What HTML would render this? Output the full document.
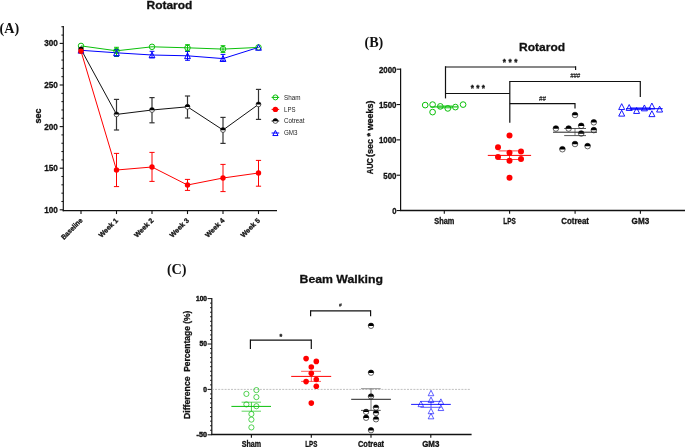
<!DOCTYPE html><html><head><meta charset="utf-8"><style>html,body{margin:0;padding:0;background:#fff;}svg{display:block;will-change:transform;}</style></head><body>
<svg width="685" height="447" viewBox="0 0 685 447">
<rect width="685" height="447" fill="#fff"/>
<text x="-0.5" y="32.8" font-family="Liberation Serif" font-size="15" font-weight="bold" text-anchor="start" fill="#111" textLength="19.6" lengthAdjust="spacingAndGlyphs" >(A)</text>
<text x="146.5" y="9.3" font-family="Liberation Sans" font-size="11.8" font-weight="bold" text-anchor="start" fill="#111" textLength="45.9" lengthAdjust="spacingAndGlyphs"  stroke="#111" stroke-width="0.3">Rotarod</text>
<line x1="63.3" y1="26.0" x2="63.3" y2="211.25" stroke="#111" stroke-width="1.2" />
<line x1="62.699999999999996" y1="210.65" x2="277" y2="210.65" stroke="#111" stroke-width="1.4" />
<line x1="59.699999999999996" y1="209.8" x2="63.3" y2="209.8" stroke="#111" stroke-width="1.1" />
<line x1="61.4" y1="201.48" x2="63.3" y2="201.48" stroke="#111" stroke-width="1.0" />
<line x1="61.4" y1="193.16" x2="63.3" y2="193.16" stroke="#111" stroke-width="1.0" />
<line x1="61.4" y1="184.84" x2="63.3" y2="184.84" stroke="#111" stroke-width="1.0" />
<line x1="61.4" y1="176.52" x2="63.3" y2="176.52" stroke="#111" stroke-width="1.0" />
<line x1="59.699999999999996" y1="168.2" x2="63.3" y2="168.2" stroke="#111" stroke-width="1.1" />
<line x1="61.4" y1="159.88" x2="63.3" y2="159.88" stroke="#111" stroke-width="1.0" />
<line x1="61.4" y1="151.56" x2="63.3" y2="151.56" stroke="#111" stroke-width="1.0" />
<line x1="61.4" y1="143.23999999999998" x2="63.3" y2="143.23999999999998" stroke="#111" stroke-width="1.0" />
<line x1="61.4" y1="134.92" x2="63.3" y2="134.92" stroke="#111" stroke-width="1.0" />
<line x1="59.699999999999996" y1="126.6" x2="63.3" y2="126.6" stroke="#111" stroke-width="1.1" />
<line x1="61.4" y1="118.28" x2="63.3" y2="118.28" stroke="#111" stroke-width="1.0" />
<line x1="61.4" y1="109.96000000000001" x2="63.3" y2="109.96000000000001" stroke="#111" stroke-width="1.0" />
<line x1="61.4" y1="101.63999999999999" x2="63.3" y2="101.63999999999999" stroke="#111" stroke-width="1.0" />
<line x1="61.4" y1="93.32" x2="63.3" y2="93.32" stroke="#111" stroke-width="1.0" />
<line x1="59.699999999999996" y1="85.0" x2="63.3" y2="85.0" stroke="#111" stroke-width="1.1" />
<line x1="61.4" y1="76.68" x2="63.3" y2="76.68" stroke="#111" stroke-width="1.0" />
<line x1="61.4" y1="68.36" x2="63.3" y2="68.36" stroke="#111" stroke-width="1.0" />
<line x1="61.4" y1="60.04" x2="63.3" y2="60.04" stroke="#111" stroke-width="1.0" />
<line x1="61.4" y1="51.72" x2="63.3" y2="51.72" stroke="#111" stroke-width="1.0" />
<line x1="59.699999999999996" y1="43.4" x2="63.3" y2="43.4" stroke="#111" stroke-width="1.1" />
<line x1="61.4" y1="35.08" x2="63.3" y2="35.08" stroke="#111" stroke-width="1.0" />
<line x1="61.4" y1="26.759999999999998" x2="63.3" y2="26.759999999999998" stroke="#111" stroke-width="1.0" />
<text x="57.9" y="46.4" font-family="Liberation Sans" font-size="9.2" font-weight="bold" text-anchor="end" fill="#111" textLength="13.7" lengthAdjust="spacingAndGlyphs"  stroke="#111" stroke-width="0.3">300</text>
<text x="57.9" y="88.0" font-family="Liberation Sans" font-size="9.2" font-weight="bold" text-anchor="end" fill="#111" textLength="13.7" lengthAdjust="spacingAndGlyphs"  stroke="#111" stroke-width="0.3">250</text>
<text x="57.9" y="129.6" font-family="Liberation Sans" font-size="9.2" font-weight="bold" text-anchor="end" fill="#111" textLength="13.7" lengthAdjust="spacingAndGlyphs"  stroke="#111" stroke-width="0.3">200</text>
<text x="57.9" y="171.2" font-family="Liberation Sans" font-size="9.2" font-weight="bold" text-anchor="end" fill="#111" textLength="13.7" lengthAdjust="spacingAndGlyphs"  stroke="#111" stroke-width="0.3">150</text>
<text x="57.9" y="212.8" font-family="Liberation Sans" font-size="9.2" font-weight="bold" text-anchor="end" fill="#111" textLength="13.7" lengthAdjust="spacingAndGlyphs"  stroke="#111" stroke-width="0.3">100</text>
<text x="41.3" y="115.9" font-family="Liberation Sans" font-size="9" font-weight="bold" text-anchor="middle" fill="#111" textLength="15" lengthAdjust="spacingAndGlyphs" transform="rotate(-90 41.3 115.9)"  stroke="#111" stroke-width="0.3">sec</text>
<line x1="81.0" y1="210.65" x2="81.0" y2="214.05" stroke="#111" stroke-width="1.1" />
<line x1="116.5" y1="210.65" x2="116.5" y2="214.05" stroke="#111" stroke-width="1.1" />
<line x1="152.0" y1="210.65" x2="152.0" y2="214.05" stroke="#111" stroke-width="1.1" />
<line x1="187.5" y1="210.65" x2="187.5" y2="214.05" stroke="#111" stroke-width="1.1" />
<line x1="223.0" y1="210.65" x2="223.0" y2="214.05" stroke="#111" stroke-width="1.1" />
<line x1="258.5" y1="210.65" x2="258.5" y2="214.05" stroke="#111" stroke-width="1.1" />
<text x="83.0" y="220.9" font-family="Liberation Sans" font-size="7" font-weight="bold" text-anchor="end" fill="#111" textLength="27.0" lengthAdjust="spacingAndGlyphs" transform="rotate(-45 83.0 220.9)"  stroke="#111" stroke-width="0.3">Baseline</text>
<text x="118.5" y="220.9" font-family="Liberation Sans" font-size="7" font-weight="bold" text-anchor="end" fill="#111" textLength="24.2" lengthAdjust="spacingAndGlyphs" transform="rotate(-45 118.5 220.9)"  stroke="#111" stroke-width="0.3">Week 1</text>
<text x="154.0" y="220.9" font-family="Liberation Sans" font-size="7" font-weight="bold" text-anchor="end" fill="#111" textLength="24.2" lengthAdjust="spacingAndGlyphs" transform="rotate(-45 154.0 220.9)"  stroke="#111" stroke-width="0.3">Week 2</text>
<text x="189.5" y="220.9" font-family="Liberation Sans" font-size="7" font-weight="bold" text-anchor="end" fill="#111" textLength="24.2" lengthAdjust="spacingAndGlyphs" transform="rotate(-45 189.5 220.9)"  stroke="#111" stroke-width="0.3">Week 3</text>
<text x="225.0" y="220.9" font-family="Liberation Sans" font-size="7" font-weight="bold" text-anchor="end" fill="#111" textLength="24.2" lengthAdjust="spacingAndGlyphs" transform="rotate(-45 225.0 220.9)"  stroke="#111" stroke-width="0.3">Week 4</text>
<text x="260.5" y="220.9" font-family="Liberation Sans" font-size="7" font-weight="bold" text-anchor="end" fill="#111" textLength="24.2" lengthAdjust="spacingAndGlyphs" transform="rotate(-45 260.5 220.9)"  stroke="#111" stroke-width="0.3">Week 5</text>
<polyline points="81.0,51.2 116.5,170.0 152.0,167.0 187.5,185.0 223.0,178.0 258.5,173.0" fill="none" stroke="#ff0000" stroke-width="1.0"/>
<polyline points="81.0,49.3 116.5,114.4 152.0,110.0 187.5,106.8 223.0,130.0 258.5,104.4" fill="none" stroke="#111" stroke-width="1.0"/>
<polyline points="81.0,50.3 116.5,52.8 152.0,55.0 187.5,55.8 223.0,58.6 258.5,47.4" fill="none" stroke="#0000ff" stroke-width="1.0"/>
<polyline points="81.0,45.9 116.5,50.8 152.0,46.8 187.5,47.8 223.0,49.1 258.5,47.4" fill="none" stroke="#0ac00a" stroke-width="1.0"/>
<line x1="116.5" y1="99.4" x2="116.5" y2="130.0" stroke="#333" stroke-width="1.2" />
<line x1="113.9" y1="99.4" x2="119.1" y2="99.4" stroke="#333" stroke-width="1.2" />
<line x1="113.9" y1="130.0" x2="119.1" y2="130.0" stroke="#333" stroke-width="1.2" />
<line x1="152.0" y1="97.6" x2="152.0" y2="122.8" stroke="#333" stroke-width="1.2" />
<line x1="149.4" y1="97.6" x2="154.6" y2="97.6" stroke="#333" stroke-width="1.2" />
<line x1="149.4" y1="122.8" x2="154.6" y2="122.8" stroke="#333" stroke-width="1.2" />
<line x1="187.5" y1="96.0" x2="187.5" y2="118.0" stroke="#333" stroke-width="1.2" />
<line x1="184.9" y1="96.0" x2="190.1" y2="96.0" stroke="#333" stroke-width="1.2" />
<line x1="184.9" y1="118.0" x2="190.1" y2="118.0" stroke="#333" stroke-width="1.2" />
<line x1="223.0" y1="117.4" x2="223.0" y2="143.4" stroke="#333" stroke-width="1.2" />
<line x1="220.4" y1="117.4" x2="225.6" y2="117.4" stroke="#333" stroke-width="1.2" />
<line x1="220.4" y1="143.4" x2="225.6" y2="143.4" stroke="#333" stroke-width="1.2" />
<line x1="258.5" y1="89.4" x2="258.5" y2="119.4" stroke="#333" stroke-width="1.2" />
<line x1="255.9" y1="89.4" x2="261.1" y2="89.4" stroke="#333" stroke-width="1.2" />
<line x1="255.9" y1="119.4" x2="261.1" y2="119.4" stroke="#333" stroke-width="1.2" />
<line x1="116.5" y1="153.4" x2="116.5" y2="186.6" stroke="#ff0000" stroke-width="1.0" />
<line x1="113.9" y1="153.4" x2="119.1" y2="153.4" stroke="#ff0000" stroke-width="1.0" />
<line x1="113.9" y1="186.6" x2="119.1" y2="186.6" stroke="#ff0000" stroke-width="1.0" />
<line x1="152.0" y1="152.4" x2="152.0" y2="181.4" stroke="#ff0000" stroke-width="1.0" />
<line x1="149.4" y1="152.4" x2="154.6" y2="152.4" stroke="#ff0000" stroke-width="1.0" />
<line x1="149.4" y1="181.4" x2="154.6" y2="181.4" stroke="#ff0000" stroke-width="1.0" />
<line x1="187.5" y1="179.4" x2="187.5" y2="190.4" stroke="#ff0000" stroke-width="1.0" />
<line x1="184.9" y1="179.4" x2="190.1" y2="179.4" stroke="#ff0000" stroke-width="1.0" />
<line x1="184.9" y1="190.4" x2="190.1" y2="190.4" stroke="#ff0000" stroke-width="1.0" />
<line x1="223.0" y1="164.4" x2="223.0" y2="191.6" stroke="#ff0000" stroke-width="1.0" />
<line x1="220.4" y1="164.4" x2="225.6" y2="164.4" stroke="#ff0000" stroke-width="1.0" />
<line x1="220.4" y1="191.6" x2="225.6" y2="191.6" stroke="#ff0000" stroke-width="1.0" />
<line x1="258.5" y1="160.4" x2="258.5" y2="186.2" stroke="#ff0000" stroke-width="1.0" />
<line x1="255.9" y1="160.4" x2="261.1" y2="160.4" stroke="#ff0000" stroke-width="1.0" />
<line x1="255.9" y1="186.2" x2="261.1" y2="186.2" stroke="#ff0000" stroke-width="1.0" />
<line x1="116.5" y1="49.5" x2="116.5" y2="56.5" stroke="#0000ff" stroke-width="1.0" />
<line x1="114.1" y1="49.5" x2="118.9" y2="49.5" stroke="#0000ff" stroke-width="1.0" />
<line x1="114.1" y1="56.5" x2="118.9" y2="56.5" stroke="#0000ff" stroke-width="1.0" />
<line x1="152.0" y1="51.3" x2="152.0" y2="57.7" stroke="#0000ff" stroke-width="1.0" />
<line x1="149.6" y1="51.3" x2="154.4" y2="51.3" stroke="#0000ff" stroke-width="1.0" />
<line x1="149.6" y1="57.7" x2="154.4" y2="57.7" stroke="#0000ff" stroke-width="1.0" />
<line x1="187.5" y1="51.5" x2="187.5" y2="60.3" stroke="#0000ff" stroke-width="1.0" />
<line x1="185.1" y1="51.5" x2="189.9" y2="51.5" stroke="#0000ff" stroke-width="1.0" />
<line x1="185.1" y1="60.3" x2="189.9" y2="60.3" stroke="#0000ff" stroke-width="1.0" />
<line x1="223.0" y1="54.4" x2="223.0" y2="61.0" stroke="#0000ff" stroke-width="1.0" />
<line x1="220.6" y1="54.4" x2="225.4" y2="54.4" stroke="#0000ff" stroke-width="1.0" />
<line x1="220.6" y1="61.0" x2="225.4" y2="61.0" stroke="#0000ff" stroke-width="1.0" />
<line x1="116.5" y1="47.3" x2="116.5" y2="56.0" stroke="#0ac00a" stroke-width="1.0" />
<line x1="114.1" y1="47.3" x2="118.9" y2="47.3" stroke="#0ac00a" stroke-width="1.0" />
<line x1="114.1" y1="56.0" x2="118.9" y2="56.0" stroke="#0ac00a" stroke-width="1.0" />
<line x1="187.5" y1="44.7" x2="187.5" y2="50.8" stroke="#0ac00a" stroke-width="1.0" />
<line x1="185.1" y1="44.7" x2="189.9" y2="44.7" stroke="#0ac00a" stroke-width="1.0" />
<line x1="185.1" y1="50.8" x2="189.9" y2="50.8" stroke="#0ac00a" stroke-width="1.0" />
<line x1="223.0" y1="45.7" x2="223.0" y2="52.4" stroke="#0ac00a" stroke-width="1.0" />
<line x1="220.6" y1="45.7" x2="225.4" y2="45.7" stroke="#0ac00a" stroke-width="1.0" />
<line x1="220.6" y1="52.4" x2="225.4" y2="52.4" stroke="#0ac00a" stroke-width="1.0" />
<circle cx="81.0" cy="45.9" r="2.75" fill="none" stroke="#0ac00a" stroke-width="1.0"/>
<circle cx="116.5" cy="50.8" r="2.75" fill="none" stroke="#0ac00a" stroke-width="1.0"/>
<circle cx="152.0" cy="46.8" r="2.75" fill="none" stroke="#0ac00a" stroke-width="1.0"/>
<circle cx="187.5" cy="47.8" r="2.75" fill="none" stroke="#0ac00a" stroke-width="1.0"/>
<circle cx="223.0" cy="49.1" r="2.75" fill="none" stroke="#0ac00a" stroke-width="1.0"/>
<circle cx="258.5" cy="47.4" r="2.75" fill="none" stroke="#0ac00a" stroke-width="1.0"/>
<path d="M81.0,47.458 L83.9,53.141999999999996 L78.1,53.141999999999996 Z" fill="none" stroke="#0000ff" stroke-width="1.0" stroke-linejoin="miter"/>
<path d="M116.5,49.958 L119.4,55.641999999999996 L113.6,55.641999999999996 Z" fill="none" stroke="#0000ff" stroke-width="1.0" stroke-linejoin="miter"/>
<path d="M152.0,52.158 L154.9,57.842 L149.1,57.842 Z" fill="none" stroke="#0000ff" stroke-width="1.0" stroke-linejoin="miter"/>
<path d="M187.5,52.958 L190.4,58.641999999999996 L184.6,58.641999999999996 Z" fill="none" stroke="#0000ff" stroke-width="1.0" stroke-linejoin="miter"/>
<path d="M223.0,55.758 L225.9,61.442 L220.1,61.442 Z" fill="none" stroke="#0000ff" stroke-width="1.0" stroke-linejoin="miter"/>
<path d="M258.5,44.558 L261.4,50.242 L255.6,50.242 Z" fill="none" stroke="#0000ff" stroke-width="1.0" stroke-linejoin="miter"/>
<circle cx="81.0" cy="49.3" r="2.4" fill="#fff" stroke="#000" stroke-width="0.6"/>
<path d="M78.61,49.49 A2.4,2.4 0 1 1 83.39,49.49 Z" fill="#000"/>
<circle cx="116.5" cy="114.4" r="2.4" fill="#fff" stroke="#000" stroke-width="0.6"/>
<path d="M114.11,114.59 A2.4,2.4 0 1 1 118.89,114.59 Z" fill="#000"/>
<circle cx="152.0" cy="110.0" r="2.4" fill="#fff" stroke="#000" stroke-width="0.6"/>
<path d="M149.61,110.19 A2.4,2.4 0 1 1 154.39,110.19 Z" fill="#000"/>
<circle cx="187.5" cy="106.8" r="2.4" fill="#fff" stroke="#000" stroke-width="0.6"/>
<path d="M185.11,106.99 A2.4,2.4 0 1 1 189.89,106.99 Z" fill="#000"/>
<circle cx="223.0" cy="130.0" r="2.4" fill="#fff" stroke="#000" stroke-width="0.6"/>
<path d="M220.61,130.19 A2.4,2.4 0 1 1 225.39,130.19 Z" fill="#000"/>
<circle cx="258.5" cy="104.4" r="2.4" fill="#fff" stroke="#000" stroke-width="0.6"/>
<path d="M256.11,104.59 A2.4,2.4 0 1 1 260.89,104.59 Z" fill="#000"/>
<circle cx="81.0" cy="51.2" r="2.7" fill="#ff0000"/>
<circle cx="116.5" cy="170.0" r="2.7" fill="#ff0000"/>
<circle cx="152.0" cy="167.0" r="2.7" fill="#ff0000"/>
<circle cx="187.5" cy="185.0" r="2.7" fill="#ff0000"/>
<circle cx="223.0" cy="178.0" r="2.7" fill="#ff0000"/>
<circle cx="258.5" cy="173.0" r="2.7" fill="#ff0000"/>
<line x1="271.59999999999997" y1="97.4" x2="279.2" y2="97.4" stroke="#0ac00a" stroke-width="1.0" />
<circle cx="275.4" cy="97.4" r="2.5" fill="none" stroke="#0ac00a" stroke-width="1.0"/>
<text x="284" y="99.80000000000001" font-family="Liberation Sans" font-size="6.6" font-weight="normal" text-anchor="start" fill="#222" textLength="16.5" lengthAdjust="spacingAndGlyphs" >Sham</text>
<line x1="271.59999999999997" y1="109.4" x2="279.2" y2="109.4" stroke="#ff0000" stroke-width="1.0" />
<circle cx="275.4" cy="109.4" r="2.7" fill="#ff0000"/>
<text x="284" y="111.80000000000001" font-family="Liberation Sans" font-size="6.6" font-weight="normal" text-anchor="start" fill="#222" textLength="11.5" lengthAdjust="spacingAndGlyphs" >LPS</text>
<line x1="271.59999999999997" y1="121.0" x2="279.2" y2="121.0" stroke="#111" stroke-width="1.0" />
<circle cx="275.4" cy="121.0" r="2.4" fill="#fff" stroke="#000" stroke-width="0.6"/>
<path d="M273.01,121.19 A2.4,2.4 0 1 1 277.79,121.19 Z" fill="#000"/>
<text x="284" y="123.4" font-family="Liberation Sans" font-size="6.6" font-weight="normal" text-anchor="start" fill="#222" textLength="20.4" lengthAdjust="spacingAndGlyphs" >Cotreat</text>
<line x1="271.59999999999997" y1="133.0" x2="279.2" y2="133.0" stroke="#0000ff" stroke-width="1.0" />
<path d="M275.4,130.452 L278.0,135.548 L272.79999999999995,135.548 Z" fill="none" stroke="#0000ff" stroke-width="1.0" stroke-linejoin="miter"/>
<text x="284" y="135.4" font-family="Liberation Sans" font-size="6.6" font-weight="normal" text-anchor="start" fill="#222" textLength="13.5" lengthAdjust="spacingAndGlyphs" >GM3</text>
<text x="364.5" y="46.7" font-family="Liberation Serif" font-size="15" font-weight="bold" text-anchor="start" fill="#111" textLength="18.8" lengthAdjust="spacingAndGlyphs" >(B)</text>
<text x="519.1" y="51.4" font-family="Liberation Sans" font-size="11.8" font-weight="bold" text-anchor="start" fill="#111" textLength="46.0" lengthAdjust="spacingAndGlyphs"  stroke="#111" stroke-width="0.3">Rotarod</text>
<line x1="400.6" y1="68.60000000000002" x2="400.6" y2="211.1" stroke="#111" stroke-width="1.2" />
<line x1="400.0" y1="210.5" x2="685" y2="210.5" stroke="#111" stroke-width="1.4" />
<line x1="396.6" y1="210.55" x2="400.6" y2="210.55" stroke="#111" stroke-width="1.1" />
<text x="396.5" y="213.95000000000002" font-family="Liberation Sans" font-size="9.2" font-weight="bold" text-anchor="end" fill="#111" textLength="4.3" lengthAdjust="spacingAndGlyphs"  stroke="#111" stroke-width="0.3">0</text>
<line x1="396.6" y1="175.2125" x2="400.6" y2="175.2125" stroke="#111" stroke-width="1.1" />
<text x="396.5" y="178.6125" font-family="Liberation Sans" font-size="9.2" font-weight="bold" text-anchor="end" fill="#111" textLength="13.2" lengthAdjust="spacingAndGlyphs"  stroke="#111" stroke-width="0.3">500</text>
<line x1="396.6" y1="139.875" x2="400.6" y2="139.875" stroke="#111" stroke-width="1.1" />
<text x="396.5" y="143.275" font-family="Liberation Sans" font-size="9.2" font-weight="bold" text-anchor="end" fill="#111" textLength="17.6" lengthAdjust="spacingAndGlyphs"  stroke="#111" stroke-width="0.3">1000</text>
<line x1="396.6" y1="104.53750000000001" x2="400.6" y2="104.53750000000001" stroke="#111" stroke-width="1.1" />
<text x="396.5" y="107.93750000000001" font-family="Liberation Sans" font-size="9.2" font-weight="bold" text-anchor="end" fill="#111" textLength="17.6" lengthAdjust="spacingAndGlyphs"  stroke="#111" stroke-width="0.3">1500</text>
<line x1="396.6" y1="69.20000000000002" x2="400.6" y2="69.20000000000002" stroke="#111" stroke-width="1.1" />
<text x="396.5" y="72.60000000000002" font-family="Liberation Sans" font-size="9.2" font-weight="bold" text-anchor="end" fill="#111" textLength="17.6" lengthAdjust="spacingAndGlyphs"  stroke="#111" stroke-width="0.3">2000</text>
<text x="372.9" y="174.2" font-family="Liberation Sans" font-size="9" font-weight="bold" text-anchor="start" fill="#111" textLength="16.0" lengthAdjust="spacingAndGlyphs" transform="rotate(-90 372.9 174.2)"  stroke="#111" stroke-width="0.3">AUC</text>
<text x="372.9" y="156.9" font-family="Liberation Sans" font-size="9" font-weight="bold" text-anchor="start" fill="#111" textLength="56.4" lengthAdjust="spacingAndGlyphs" transform="rotate(-90 372.9 156.9)"  stroke="#111" stroke-width="0.3">(sec * weeks)</text>
<line x1="444.3" y1="210.5" x2="444.3" y2="213.7" stroke="#111" stroke-width="1.1" />
<line x1="509.6" y1="210.5" x2="509.6" y2="213.7" stroke="#111" stroke-width="1.1" />
<line x1="575.1" y1="210.5" x2="575.1" y2="213.7" stroke="#111" stroke-width="1.1" />
<line x1="640.4" y1="210.5" x2="640.4" y2="213.7" stroke="#111" stroke-width="1.1" />
<text x="444.3" y="223.7" font-family="Liberation Sans" font-size="8.6" font-weight="bold" text-anchor="middle" fill="#111" textLength="20.1" lengthAdjust="spacingAndGlyphs"  stroke="#111" stroke-width="0.3">Sham</text>
<text x="509.6" y="223.7" font-family="Liberation Sans" font-size="8.6" font-weight="bold" text-anchor="middle" fill="#111" textLength="12.5" lengthAdjust="spacingAndGlyphs"  stroke="#111" stroke-width="0.3">LPS</text>
<text x="575.1" y="223.7" font-family="Liberation Sans" font-size="8.6" font-weight="bold" text-anchor="middle" fill="#111" textLength="27.8" lengthAdjust="spacingAndGlyphs"  stroke="#111" stroke-width="0.3">Cotreat</text>
<text x="640.4" y="223.7" font-family="Liberation Sans" font-size="8.6" font-weight="bold" text-anchor="middle" fill="#111" textLength="17.6" lengthAdjust="spacingAndGlyphs"  stroke="#111" stroke-width="0.3">GM3</text>
<line x1="445.5" y1="67.0" x2="575.6" y2="67.0" stroke="#111" stroke-width="1.1" />
<line x1="445.5" y1="66.2" x2="445.5" y2="98.4" stroke="#111" stroke-width="1.2" />
<line x1="575.6" y1="66.2" x2="575.6" y2="70.0" stroke="#111" stroke-width="1.2" />
<line x1="445.5" y1="93.5" x2="509.8" y2="93.5" stroke="#111" stroke-width="1.2" />
<line x1="509.8" y1="80.9" x2="509.8" y2="122.7" stroke="#111" stroke-width="1.2" />
<line x1="509.8" y1="81.5" x2="640.3" y2="81.5" stroke="#111" stroke-width="1.2" />
<line x1="640.3" y1="80.9" x2="640.3" y2="97.1" stroke="#111" stroke-width="1.2" />
<line x1="509.8" y1="103.7" x2="575.0" y2="103.7" stroke="#111" stroke-width="1.2" />
<line x1="575.0" y1="103.1" x2="575.0" y2="108.6" stroke="#111" stroke-width="1.2" />
<text x="504.4" y="65.3" font-family="Liberation Sans" font-size="8.2" font-weight="bold" text-anchor="middle" fill="#111"  stroke="#111" stroke-width="0.3">*</text>
<text x="510.2" y="65.3" font-family="Liberation Sans" font-size="8.2" font-weight="bold" text-anchor="middle" fill="#111"  stroke="#111" stroke-width="0.3">*</text>
<text x="515.9" y="65.3" font-family="Liberation Sans" font-size="8.2" font-weight="bold" text-anchor="middle" fill="#111"  stroke="#111" stroke-width="0.3">*</text>
<text x="472.3" y="91.2" font-family="Liberation Sans" font-size="8.2" font-weight="bold" text-anchor="middle" fill="#111"  stroke="#111" stroke-width="0.3">*</text>
<text x="477.8" y="91.2" font-family="Liberation Sans" font-size="8.2" font-weight="bold" text-anchor="middle" fill="#111"  stroke="#111" stroke-width="0.3">*</text>
<text x="483.4" y="91.2" font-family="Liberation Sans" font-size="8.2" font-weight="bold" text-anchor="middle" fill="#111"  stroke="#111" stroke-width="0.3">*</text>
<text x="575.2" y="77.9" font-family="Liberation Sans" font-size="6.4" font-weight="normal" text-anchor="middle" fill="#111" textLength="10" lengthAdjust="spacingAndGlyphs" font-style="italic" stroke="#111" stroke-width="0.15">###</text>
<text x="542.4" y="100.6" font-family="Liberation Sans" font-size="6.4" font-weight="normal" text-anchor="middle" fill="#111" textLength="6.8" lengthAdjust="spacingAndGlyphs" font-style="italic" stroke="#111" stroke-width="0.15">##</text>
<line x1="430.5" y1="106.9" x2="458.0" y2="106.9" stroke="#0ac00a" stroke-width="1.1" />
<line x1="438.0" y1="105.9" x2="452.0" y2="105.9" stroke="#0ac00a" stroke-width="0.7" />
<line x1="438.0" y1="107.9" x2="452.0" y2="107.9" stroke="#0ac00a" stroke-width="0.7" />
<circle cx="425.2" cy="105.1" r="2.85" fill="none" stroke="#0ac00a" stroke-width="1.0"/>
<circle cx="432.6" cy="104.6" r="2.85" fill="none" stroke="#0ac00a" stroke-width="1.0"/>
<circle cx="432.6" cy="112.1" r="2.85" fill="none" stroke="#0ac00a" stroke-width="1.0"/>
<circle cx="440.3" cy="106.4" r="2.85" fill="none" stroke="#0ac00a" stroke-width="1.0"/>
<circle cx="447.8" cy="108.4" r="2.85" fill="none" stroke="#0ac00a" stroke-width="1.0"/>
<circle cx="455.4" cy="107.1" r="2.85" fill="none" stroke="#0ac00a" stroke-width="1.0"/>
<circle cx="463.1" cy="104.6" r="2.85" fill="none" stroke="#0ac00a" stroke-width="1.0"/>
<line x1="487.8" y1="155.4" x2="531.1" y2="155.4" stroke="#ff0000" stroke-width="1.0" />
<line x1="498.6" y1="150.9" x2="519.7" y2="150.9" stroke="#ff0000" stroke-width="0.75" />
<line x1="498.6" y1="159.5" x2="519.7" y2="159.5" stroke="#ff0000" stroke-width="0.75" />
<line x1="509.5" y1="150.9" x2="509.5" y2="159.5" stroke="#ff0000" stroke-width="0.75" />
<circle cx="509.5" cy="135.4" r="3.0" fill="#ff0000"/>
<circle cx="498.0" cy="147.2" r="3.0" fill="#ff0000"/>
<circle cx="509.5" cy="152.7" r="3.0" fill="#ff0000"/>
<circle cx="521.0" cy="151.5" r="3.0" fill="#ff0000"/>
<circle cx="498.0" cy="157.1" r="3.0" fill="#ff0000"/>
<circle cx="509.5" cy="160.8" r="3.0" fill="#ff0000"/>
<circle cx="521.0" cy="158.9" r="3.0" fill="#ff0000"/>
<circle cx="509.5" cy="177.8" r="3.0" fill="#ff0000"/>
<circle cx="575.0" cy="115.0" r="2.8" fill="#fff" stroke="#000" stroke-width="0.6"/>
<path d="M572.21,115.22 A2.8,2.8 0 1 1 577.79,115.22 Z" fill="#000"/>
<circle cx="593.8" cy="122.30000000000001" r="2.8" fill="#fff" stroke="#000" stroke-width="0.6"/>
<path d="M591.01,122.52 A2.8,2.8 0 1 1 596.59,122.52 Z" fill="#000"/>
<circle cx="555.9" cy="128.5" r="2.8" fill="#fff" stroke="#000" stroke-width="0.6"/>
<path d="M553.11,128.72 A2.8,2.8 0 1 1 558.69,128.72 Z" fill="#000"/>
<circle cx="568.6" cy="128.5" r="2.8" fill="#fff" stroke="#000" stroke-width="0.6"/>
<path d="M565.81,128.72 A2.8,2.8 0 1 1 571.39,128.72 Z" fill="#000"/>
<circle cx="581.2" cy="125.80000000000001" r="2.8" fill="#fff" stroke="#000" stroke-width="0.6"/>
<path d="M578.41,126.02 A2.8,2.8 0 1 1 583.99,126.02 Z" fill="#000"/>
<circle cx="593.8" cy="130.1" r="2.8" fill="#fff" stroke="#000" stroke-width="0.6"/>
<path d="M591.01,130.32 A2.8,2.8 0 1 1 596.59,130.32 Z" fill="#000"/>
<circle cx="581.2" cy="133.5" r="2.8" fill="#fff" stroke="#000" stroke-width="0.6"/>
<path d="M578.41,133.72 A2.8,2.8 0 1 1 583.99,133.72 Z" fill="#000"/>
<circle cx="575.0" cy="144.0" r="2.8" fill="#fff" stroke="#000" stroke-width="0.6"/>
<path d="M572.21,144.22 A2.8,2.8 0 1 1 577.79,144.22 Z" fill="#000"/>
<circle cx="587.6" cy="146.1" r="2.8" fill="#fff" stroke="#000" stroke-width="0.6"/>
<path d="M584.81,146.32 A2.8,2.8 0 1 1 590.39,146.32 Z" fill="#000"/>
<circle cx="562.4" cy="149.20000000000002" r="2.8" fill="#fff" stroke="#000" stroke-width="0.6"/>
<path d="M559.61,149.42 A2.8,2.8 0 1 1 565.19,149.42 Z" fill="#000"/>
<line x1="553.0" y1="132.2" x2="597.0" y2="132.2" stroke="#222" stroke-width="1.0" />
<line x1="564.2" y1="128.5" x2="586.0" y2="128.5" stroke="#222" stroke-width="0.75" />
<line x1="564.2" y1="135.6" x2="586.0" y2="135.6" stroke="#222" stroke-width="0.75" />
<line x1="575.0" y1="128.5" x2="575.0" y2="135.6" stroke="#444" stroke-width="0.7" />
<path d="M621.7,103.66 L624.7,109.53999999999999 L618.7,109.53999999999999 Z" fill="none" stroke="#0000ff" stroke-width="0.9" stroke-linejoin="miter"/>
<path d="M621.7,110.26 L624.7,116.14 L618.7,116.14 Z" fill="none" stroke="#0000ff" stroke-width="0.9" stroke-linejoin="miter"/>
<path d="M629.2,104.56 L632.2,110.44 L626.2,110.44 Z" fill="none" stroke="#0000ff" stroke-width="0.9" stroke-linejoin="miter"/>
<path d="M636.6,107.56 L639.6,113.44 L633.6,113.44 Z" fill="none" stroke="#0000ff" stroke-width="0.9" stroke-linejoin="miter"/>
<path d="M644.4,104.96000000000001 L647.4,110.84 L641.4,110.84 Z" fill="none" stroke="#0000ff" stroke-width="0.9" stroke-linejoin="miter"/>
<path d="M651.9,103.06 L654.9,108.94 L648.9,108.94 Z" fill="none" stroke="#0000ff" stroke-width="0.9" stroke-linejoin="miter"/>
<path d="M651.9,110.76 L654.9,116.64 L648.9,116.64 Z" fill="none" stroke="#0000ff" stroke-width="0.9" stroke-linejoin="miter"/>
<path d="M659.6,106.16 L662.6,112.03999999999999 L656.6,112.03999999999999 Z" fill="none" stroke="#0000ff" stroke-width="0.9" stroke-linejoin="miter"/>
<line x1="626.0" y1="108.7" x2="662.7" y2="108.7" stroke="#0000ff" stroke-width="1.0" />
<line x1="629.8" y1="107.9" x2="650.9" y2="107.9" stroke="#0000ff" stroke-width="0.8" />
<line x1="629.8" y1="109.6" x2="650.9" y2="109.6" stroke="#0000ff" stroke-width="0.8" />
<text x="166.9" y="274.3" font-family="Liberation Serif" font-size="15" font-weight="bold" text-anchor="start" fill="#111" textLength="19.7" lengthAdjust="spacingAndGlyphs" >(C)</text>
<text x="299.6" y="282.9" font-family="Liberation Sans" font-size="11.8" font-weight="bold" text-anchor="start" fill="#111" textLength="83.3" lengthAdjust="spacingAndGlyphs"  stroke="#111" stroke-width="0.3">Beam Walking</text>
<line x1="211.8" y1="297.99999999999994" x2="211.8" y2="435.09999999999997" stroke="#111" stroke-width="1.2" />
<line x1="211.20000000000002" y1="434.49999999999994" x2="471.6" y2="434.49999999999994" stroke="#111" stroke-width="1.3" />
<line x1="207.60000000000002" y1="434.79999999999995" x2="211.8" y2="434.79999999999995" stroke="#111" stroke-width="1.0" />
<line x1="210.0" y1="430.26" x2="211.8" y2="430.26" stroke="#111" stroke-width="0.9" />
<line x1="210.0" y1="425.71999999999997" x2="211.8" y2="425.71999999999997" stroke="#111" stroke-width="0.9" />
<line x1="210.0" y1="421.17999999999995" x2="211.8" y2="421.17999999999995" stroke="#111" stroke-width="0.9" />
<line x1="210.0" y1="416.64" x2="211.8" y2="416.64" stroke="#111" stroke-width="0.9" />
<line x1="210.0" y1="412.09999999999997" x2="211.8" y2="412.09999999999997" stroke="#111" stroke-width="0.9" />
<line x1="210.0" y1="407.56" x2="211.8" y2="407.56" stroke="#111" stroke-width="0.9" />
<line x1="210.0" y1="403.02" x2="211.8" y2="403.02" stroke="#111" stroke-width="0.9" />
<line x1="210.0" y1="398.47999999999996" x2="211.8" y2="398.47999999999996" stroke="#111" stroke-width="0.9" />
<line x1="210.0" y1="393.94" x2="211.8" y2="393.94" stroke="#111" stroke-width="0.9" />
<line x1="207.60000000000002" y1="389.4" x2="211.8" y2="389.4" stroke="#111" stroke-width="1.0" />
<line x1="210.0" y1="384.85999999999996" x2="211.8" y2="384.85999999999996" stroke="#111" stroke-width="0.9" />
<line x1="210.0" y1="380.32" x2="211.8" y2="380.32" stroke="#111" stroke-width="0.9" />
<line x1="210.0" y1="375.78" x2="211.8" y2="375.78" stroke="#111" stroke-width="0.9" />
<line x1="210.0" y1="371.23999999999995" x2="211.8" y2="371.23999999999995" stroke="#111" stroke-width="0.9" />
<line x1="210.0" y1="366.7" x2="211.8" y2="366.7" stroke="#111" stroke-width="0.9" />
<line x1="210.0" y1="362.15999999999997" x2="211.8" y2="362.15999999999997" stroke="#111" stroke-width="0.9" />
<line x1="210.0" y1="357.62" x2="211.8" y2="357.62" stroke="#111" stroke-width="0.9" />
<line x1="210.0" y1="353.08" x2="211.8" y2="353.08" stroke="#111" stroke-width="0.9" />
<line x1="210.0" y1="348.53999999999996" x2="211.8" y2="348.53999999999996" stroke="#111" stroke-width="0.9" />
<line x1="207.60000000000002" y1="344.0" x2="211.8" y2="344.0" stroke="#111" stroke-width="1.0" />
<line x1="210.0" y1="339.46" x2="211.8" y2="339.46" stroke="#111" stroke-width="0.9" />
<line x1="210.0" y1="334.91999999999996" x2="211.8" y2="334.91999999999996" stroke="#111" stroke-width="0.9" />
<line x1="210.0" y1="330.38" x2="211.8" y2="330.38" stroke="#111" stroke-width="0.9" />
<line x1="210.0" y1="325.84" x2="211.8" y2="325.84" stroke="#111" stroke-width="0.9" />
<line x1="210.0" y1="321.29999999999995" x2="211.8" y2="321.29999999999995" stroke="#111" stroke-width="0.9" />
<line x1="210.0" y1="316.76" x2="211.8" y2="316.76" stroke="#111" stroke-width="0.9" />
<line x1="210.0" y1="312.21999999999997" x2="211.8" y2="312.21999999999997" stroke="#111" stroke-width="0.9" />
<line x1="210.0" y1="307.67999999999995" x2="211.8" y2="307.67999999999995" stroke="#111" stroke-width="0.9" />
<line x1="210.0" y1="303.14" x2="211.8" y2="303.14" stroke="#111" stroke-width="0.9" />
<line x1="207.60000000000002" y1="298.59999999999997" x2="211.8" y2="298.59999999999997" stroke="#111" stroke-width="1.0" />
<text x="207.0" y="300.9" font-family="Liberation Sans" font-size="6.6" font-weight="bold" text-anchor="end" fill="#111" textLength="11.0" lengthAdjust="spacingAndGlyphs"  stroke="#111" stroke-width="0.4">100</text>
<text x="207.0" y="346.3" font-family="Liberation Sans" font-size="6.6" font-weight="bold" text-anchor="end" fill="#111" textLength="7.4" lengthAdjust="spacingAndGlyphs"  stroke="#111" stroke-width="0.4">50</text>
<text x="207.0" y="391.7" font-family="Liberation Sans" font-size="6.6" font-weight="bold" text-anchor="end" fill="#111" textLength="3.7" lengthAdjust="spacingAndGlyphs"  stroke="#111" stroke-width="0.4">0</text>
<text x="207.0" y="437.09999999999997" font-family="Liberation Sans" font-size="6.6" font-weight="bold" text-anchor="end" fill="#111" textLength="10.4" lengthAdjust="spacingAndGlyphs"  stroke="#111" stroke-width="0.4">-50</text>
<text x="190.2" y="419.0" font-family="Liberation Sans" font-size="8.8" font-weight="bold" text-anchor="start" fill="#111" textLength="42.6" lengthAdjust="spacingAndGlyphs" transform="rotate(-90 190.2 419.0)"  stroke="#111" stroke-width="0.3">Difference</text>
<text x="190.2" y="371.8" font-family="Liberation Sans" font-size="8.8" font-weight="bold" text-anchor="start" fill="#111" textLength="61.2" lengthAdjust="spacingAndGlyphs" transform="rotate(-90 190.2 371.8)"  stroke="#111" stroke-width="0.3">Percentage (%)</text>
<line x1="211.8" y1="389.4" x2="470.0" y2="389.4" stroke="#b0b0b0" stroke-width="0.8" stroke-dasharray="2 1.2"/>
<line x1="251.4" y1="434.49999999999994" x2="251.4" y2="437.69999999999993" stroke="#111" stroke-width="1.1" />
<line x1="311.3" y1="434.49999999999994" x2="311.3" y2="437.69999999999993" stroke="#111" stroke-width="1.1" />
<line x1="371.0" y1="434.49999999999994" x2="371.0" y2="437.69999999999993" stroke="#111" stroke-width="1.1" />
<line x1="430.8" y1="434.49999999999994" x2="430.8" y2="437.69999999999993" stroke="#111" stroke-width="1.1" />
<text x="251.4" y="446.6" font-family="Liberation Sans" font-size="8.4" font-weight="bold" text-anchor="middle" fill="#111" textLength="19.4" lengthAdjust="spacingAndGlyphs"  stroke="#111" stroke-width="0.3">Sham</text>
<text x="311.3" y="446.6" font-family="Liberation Sans" font-size="8.4" font-weight="bold" text-anchor="middle" fill="#111" textLength="12.0" lengthAdjust="spacingAndGlyphs"  stroke="#111" stroke-width="0.3">LPS</text>
<text x="371.0" y="446.6" font-family="Liberation Sans" font-size="8.4" font-weight="bold" text-anchor="middle" fill="#111" textLength="26.0" lengthAdjust="spacingAndGlyphs"  stroke="#111" stroke-width="0.3">Cotreat</text>
<text x="430.8" y="446.6" font-family="Liberation Sans" font-size="8.4" font-weight="bold" text-anchor="middle" fill="#111" textLength="17.2" lengthAdjust="spacingAndGlyphs"  stroke="#111" stroke-width="0.3">GM3</text>
<line x1="250.4" y1="340.1" x2="311.3" y2="340.1" stroke="#111" stroke-width="1.2" />
<line x1="250.4" y1="339.5" x2="250.4" y2="349.0" stroke="#111" stroke-width="1.2" />
<line x1="311.3" y1="339.5" x2="311.3" y2="349.0" stroke="#111" stroke-width="1.2" />
<line x1="310.6" y1="310.9" x2="370.6" y2="310.9" stroke="#111" stroke-width="1.2" />
<line x1="310.6" y1="310.3" x2="310.6" y2="316.2" stroke="#111" stroke-width="1.2" />
<line x1="370.6" y1="310.3" x2="370.6" y2="316.2" stroke="#111" stroke-width="1.2" />
<text x="280.8" y="339.0" font-family="Liberation Sans" font-size="7" font-weight="bold" text-anchor="middle" fill="#111"  stroke="#111" stroke-width="0.3">*</text>
<text x="340.3" y="307.3" font-family="Liberation Sans" font-size="5.4" font-weight="normal" text-anchor="middle" fill="#111" textLength="2.6" lengthAdjust="spacingAndGlyphs" font-style="italic" stroke="#111" stroke-width="0.1">#</text>
<line x1="231.4" y1="406.4" x2="271.0" y2="406.4" stroke="#0ac00a" stroke-width="1.0" />
<line x1="241.6" y1="402.2" x2="261.0" y2="402.2" stroke="#0ac00a" stroke-width="0.65" />
<line x1="241.6" y1="411.2" x2="261.0" y2="411.2" stroke="#0ac00a" stroke-width="0.65" />
<line x1="251.4" y1="402.2" x2="251.4" y2="411.2" stroke="#0ac00a" stroke-width="0.75" />
<circle cx="256.4" cy="390.1" r="2.6" fill="none" stroke="#0ac00a" stroke-width="0.7"/>
<circle cx="246.4" cy="393.9" r="2.6" fill="none" stroke="#0ac00a" stroke-width="0.7"/>
<circle cx="256.4" cy="397.1" r="2.6" fill="none" stroke="#0ac00a" stroke-width="0.7"/>
<circle cx="246.4" cy="404.4" r="2.6" fill="none" stroke="#0ac00a" stroke-width="0.7"/>
<circle cx="256.4" cy="406.2" r="2.6" fill="none" stroke="#0ac00a" stroke-width="0.7"/>
<circle cx="251.4" cy="414.0" r="2.6" fill="none" stroke="#0ac00a" stroke-width="0.7"/>
<circle cx="251.4" cy="419.6" r="2.6" fill="none" stroke="#0ac00a" stroke-width="0.7"/>
<circle cx="251.4" cy="427.4" r="2.6" fill="none" stroke="#0ac00a" stroke-width="0.7"/>
<circle cx="306.1" cy="358.6" r="2.8" fill="#ff0000"/>
<circle cx="316.3" cy="361.4" r="2.8" fill="#ff0000"/>
<circle cx="311.3" cy="367.0" r="2.8" fill="#ff0000"/>
<circle cx="311.3" cy="373.3" r="2.8" fill="#ff0000"/>
<circle cx="316.3" cy="379.5" r="2.8" fill="#ff0000"/>
<circle cx="306.1" cy="381.6" r="2.8" fill="#ff0000"/>
<circle cx="316.3" cy="386.2" r="2.8" fill="#ff0000"/>
<circle cx="311.3" cy="403.1" r="2.8" fill="#ff0000"/>
<line x1="291.2" y1="376.4" x2="331.2" y2="376.4" stroke="#ff0000" stroke-width="1.0" />
<line x1="301.1" y1="371.3" x2="321.0" y2="371.3" stroke="#ff0000" stroke-width="0.65" />
<line x1="301.1" y1="381.4" x2="321.0" y2="381.4" stroke="#ff0000" stroke-width="0.65" />
<line x1="311.3" y1="371.3" x2="311.3" y2="381.4" stroke="#ff0000" stroke-width="0.7" />
<circle cx="371.0" cy="325.8" r="2.7" fill="#fff" stroke="#000" stroke-width="0.6"/>
<path d="M368.31,326.02 A2.7,2.7 0 1 1 373.69,326.02 Z" fill="#000"/>
<circle cx="371.0" cy="372.7" r="2.7" fill="#fff" stroke="#000" stroke-width="0.6"/>
<path d="M368.31,372.92 A2.7,2.7 0 1 1 373.69,372.92 Z" fill="#000"/>
<circle cx="371.0" cy="396.5" r="2.7" fill="#fff" stroke="#000" stroke-width="0.6"/>
<path d="M368.31,396.72 A2.7,2.7 0 1 1 373.69,396.72 Z" fill="#000"/>
<circle cx="376.0" cy="407.6" r="2.7" fill="#fff" stroke="#000" stroke-width="0.6"/>
<path d="M373.31,407.82 A2.7,2.7 0 1 1 378.69,407.82 Z" fill="#000"/>
<circle cx="366.1" cy="411.9" r="2.7" fill="#fff" stroke="#000" stroke-width="0.6"/>
<path d="M363.41,412.12 A2.7,2.7 0 1 1 368.79,412.12 Z" fill="#000"/>
<circle cx="376.0" cy="413.1" r="2.7" fill="#fff" stroke="#000" stroke-width="0.6"/>
<path d="M373.31,413.32 A2.7,2.7 0 1 1 378.69,413.32 Z" fill="#000"/>
<circle cx="366.1" cy="417.8" r="2.7" fill="#fff" stroke="#000" stroke-width="0.6"/>
<path d="M363.41,418.02 A2.7,2.7 0 1 1 368.79,418.02 Z" fill="#000"/>
<circle cx="376.0" cy="419.3" r="2.7" fill="#fff" stroke="#000" stroke-width="0.6"/>
<path d="M373.31,419.52 A2.7,2.7 0 1 1 378.69,419.52 Z" fill="#000"/>
<circle cx="371.0" cy="430.2" r="2.7" fill="#fff" stroke="#000" stroke-width="0.6"/>
<path d="M368.31,430.42 A2.7,2.7 0 1 1 373.69,430.42 Z" fill="#000"/>
<line x1="351.2" y1="399.3" x2="390.9" y2="399.3" stroke="#222" stroke-width="1.0" />
<line x1="361.0" y1="388.7" x2="380.7" y2="388.7" stroke="#333" stroke-width="0.55" />
<line x1="361.0" y1="410.4" x2="380.7" y2="410.4" stroke="#222" stroke-width="0.8" />
<line x1="371.0" y1="388.7" x2="371.0" y2="410.4" stroke="#333" stroke-width="0.65" />
<path d="M431.0,390.256 L433.8,395.744 L428.2,395.744 Z" fill="none" stroke="#1a1aff" stroke-width="0.7" stroke-linejoin="miter"/>
<path d="M431.0,397.05600000000004 L433.8,402.544 L428.2,402.544 Z" fill="none" stroke="#1a1aff" stroke-width="0.7" stroke-linejoin="miter"/>
<path d="M440.9,398.856 L443.7,404.34400000000005 L438.09999999999997,404.34400000000005 Z" fill="none" stroke="#1a1aff" stroke-width="0.7" stroke-linejoin="miter"/>
<path d="M420.8,401.15599999999995 L423.6,406.644 L418.0,406.644 Z" fill="none" stroke="#1a1aff" stroke-width="0.7" stroke-linejoin="miter"/>
<path d="M440.9,405.05600000000004 L443.7,410.544 L438.09999999999997,410.544 Z" fill="none" stroke="#1a1aff" stroke-width="0.7" stroke-linejoin="miter"/>
<path d="M431.0,408.256 L433.8,413.744 L428.2,413.744 Z" fill="none" stroke="#1a1aff" stroke-width="0.7" stroke-linejoin="miter"/>
<path d="M431.0,413.356 L433.8,418.84400000000005 L428.2,418.84400000000005 Z" fill="none" stroke="#1a1aff" stroke-width="0.7" stroke-linejoin="miter"/>
<line x1="411.1" y1="404.4" x2="450.8" y2="404.4" stroke="#0000ff" stroke-width="0.9" />
<line x1="420.4" y1="401.4" x2="441.5" y2="401.4" stroke="#0000ff" stroke-width="0.65" />
<line x1="420.4" y1="407.3" x2="441.5" y2="407.3" stroke="#0000ff" stroke-width="0.65" />
<line x1="431.0" y1="401.4" x2="431.0" y2="407.3" stroke="#0000ff" stroke-width="0.65" />
</svg></body></html>
